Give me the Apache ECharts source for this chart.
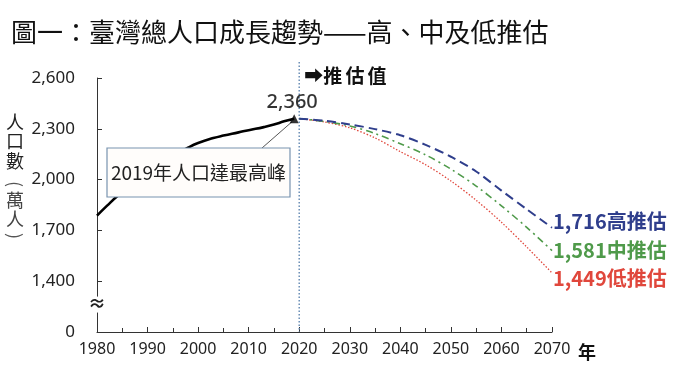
<!DOCTYPE html>
<html><head><meta charset="utf-8">
<script src="https://cdn.jsdelivr.net/npm/echarts@6/dist/echarts.min.js"></script>
<style>html,body{margin:0;padding:0;background:#fff}#c{width:677px;height:378px}</style>
</head><body><div id="c"></div>
<script>
// ---- data (萬人) ----
const histYears  = [1980,1982,1984,1986,1988,1990,1993,1995,1998,2000,2003,2005,2008,2010,2013,2015,2017,2019];
const histValues = [1787,1846,1901,1946,1990,2040,2099,2136,2188,2216,2245,2260,2279,2292,2310,2325,2344,2360];
const projYears  = [2020,2025,2030,2035,2040,2045,2050,2055,2060,2065,2070];
const highValues = [2360,2348,2326,2298,2262,2205,2135,2048,1935,1825,1716];
const midValues  = [2360,2344,2317,2272,2212,2146,2062,1962,1845,1718,1581];
const lowValues  = [2360,2340,2306,2246,2165,2088,1992,1878,1748,1602,1449];
const seriesNames = ['高推估','中推估','低推估'];
// axis break: the bottom tick value 1100 is displayed as "0"
const yTicks      = [1100,1400,1700,2000,2300,2600];
const yTickLabels = ['0','1,400','1,700','2,000','2,300','2,600'];
const peakNote = '2019年人口達最高峰';
const title = '圖一：臺灣總人口成長趨勢——高、中及低推估';

const FONT = '"Noto Sans","Noto Sans CJK TC",sans-serif';
const CJK = '"Noto Sans CJK TC","Noto Sans",sans-serif';
const fmt = v => v.toLocaleString('en-US');
const zip = (xs, ys) => xs.map((x, i) => [x, ys[i]]);

const chart = echarts.init(document.getElementById('c'), null, {renderer: 'canvas'});
const colors = ['#2f3e8c', '#4f9a4a', '#e0473c'];
const labelOffsets = [[0,-6],[0,0],[0,6]];
const projData = [highValues, midValues, lowValues];
const dashStyles = [
  {type: [9, 5], width: 2},
  {type: [7, 4, 2, 4], width: 1.6},
  {type: [1.5, 1.8], width: 1.3}
];

const option = {
  animation: false,
  backgroundColor: '#fff',
  title: {text: title, left: 6, top: 14,
    textStyle: {fontFamily: CJK, fontSize: 26, fontWeight: 'normal', color: '#111'}},
  grid: {left: 97, right: 125, top: 78, bottom: 46},
  xAxis: {
    type: 'value', min: 1980, max: 2070, interval: 10,
    axisLine: {lineStyle: {color: '#333', width: 1}},
    axisTick: {inside: true, length: 5, lineStyle: {color: '#333'}},
    minorTick: {show: true, splitNumber: 2, length: 4, lineStyle: {color: '#333'}},
    splitLine: {show: false},
    axisLabel: {formatter: v => String(v), fontFamily: FONT, fontSize: 16, color: '#222', margin: 9}
  },
  yAxis: {
    type: 'value', min: 1100, max: 2600, interval: 300,
    axisLine: {show: true, lineStyle: {color: '#333', width: 1}},
    axisTick: {show: true, inside: true, length: 5, lineStyle: {color: '#333'}},
    splitLine: {show: false},
    axisLabel: {formatter: v => yTickLabels[yTicks.indexOf(v)] || '', fontFamily: FONT, fontSize: 17, color: '#222', margin: 22}
  },
  series: [
    {type: 'line', data: zip(histYears, histValues), smooth: 0.5, symbol: 'none',
     lineStyle: {color: '#000', width: 2.6}, z: 3},
    {type: 'scatter', data: [[histYears[histYears.length-1], histValues[histValues.length-1]]],
     symbol: 'triangle', symbolSize: 9, itemStyle: {color: '#000'}, z: 6,
     label: {show: true, position: 'top', distance: 2, formatter: p => fmt(p.value[1]),
       fontFamily: FONT, fontSize: 20, fontWeight: 500, color: '#000', offset: [-2, 0]}}
  ].concat(projData.map((vals, i) => ({
    type: 'line', name: seriesNames[i], data: zip(projYears, vals), smooth: 0.3, symbol: 'none',
    lineStyle: Object.assign({color: colors[i]}, dashStyles[i]), z: 4 - i,
    endLabel: {show: true, distance: 1, offset: labelOffsets[i],
      formatter: p => fmt(p.value[1]) + seriesNames[i],
      fontFamily: CJK, fontSize: 20, fontWeight: 'bold', color: colors[i]}
  })))
};
chart.setOption(option);

// ---- annotations positioned through the axes ----
const px = (x, y) => chart.convertToPixel({gridIndex: 0}, [x, y]);
const pTop = px(2020, 2600), pBot = px(2020, 1100);
const peak = px(histYears[histYears.length-1], histValues[histValues.length-1]);
const brk = px(1980, 1262);
const xEnd = px(2070, 1100);

const g = [
  {type: 'line', shape: {x1: pTop[0], y1: pTop[1]-16, x2: pBot[0], y2: pBot[1]}, z: 1,
   style: {stroke: '#6b8fb6', lineWidth: 1.5, lineDash: [1.5, 2]}},
  {type: 'text', left: pTop[0]+5, top: pTop[1]-12, z: 10,
   style: {text: '➡推\u2006估\u2006值', fontFamily: CJK, fontSize: 19, fontWeight: 'bold', fill: '#111'}},
  {type: 'rect', shape: {x: brk[0]-3, y: brk[1]-8, width: 6, height: 16}, style: {fill: '#fff'}, z: 10},
  {type: 'text', x: brk[0], y: brk[1], z: 11,
   style: {text: '≈', fontFamily: FONT, fontSize: 18, fontWeight: 'bold', fill: '#222', align: 'center', verticalAlign: 'middle'}},
  {type: 'text', x: xEnd[0]+35, y: xEnd[1]+20, z: 10,
   style: {text: '年', fontFamily: CJK, fontSize: 18, fontWeight: 'bold', fill: '#111', align: 'center', verticalAlign: 'middle'}},
  {type: 'line', shape: {x1: 262, y1: 148, x2: peak[0]-2, y2: peak[1]+3}, z: 5,
   style: {stroke: '#555', lineWidth: 1}},
  {type: 'rect', shape: {x: 107, y: 148, width: 183, height: 49}, z: 8,
   style: {fill: '#fffdfb', stroke: '#7893b0', lineWidth: 1.2}},
  {type: 'text', x: 198.5, y: 172.5, z: 9,
   style: {text: peakNote, fontFamily: CJK, fontSize: 19, fill: '#222', align: 'center', verticalAlign: 'middle'}}
];
// vertical y-axis name: 人口數（萬人）
const yName = [['人',122,'#222',0],['口',141,'#222',0],['數',161,'#222',0],
               ['(',184,'#555',-Math.PI/2],['萬',200,'#444',0],['人',219,'#444',0],[')',236,'#555',-Math.PI/2]];
yName.forEach(([t, y, c, r]) => g.push({type: 'text', x: 15, y: y, rotation: r, z: 10,
  style: {text: t, fontFamily: CJK, fontSize: 18, fontWeight: 'normal', fill: c, align: 'center', verticalAlign: 'middle'}}));
chart.setOption({graphic: g});
</script>
</body></html>
